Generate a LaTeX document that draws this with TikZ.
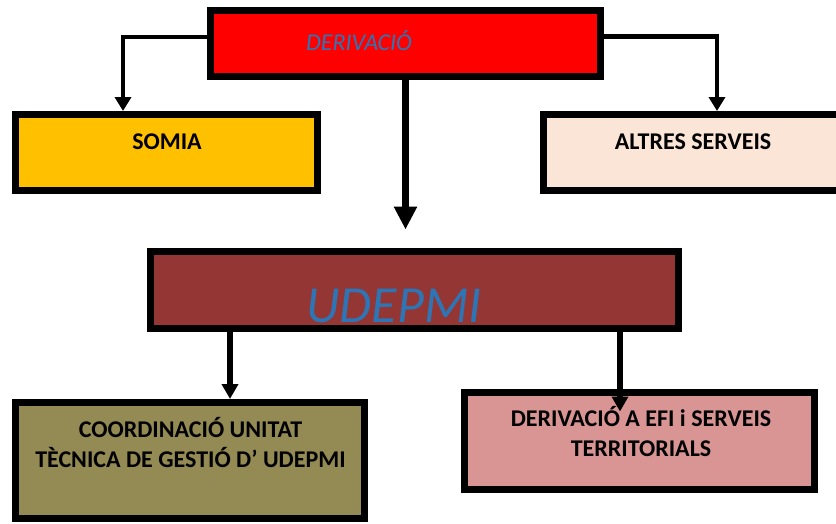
\documentclass[tikz,border=0pt]{standalone}
\usepackage{fontspec}
\setmainfont{Carlito}
\usetikzlibrary{arrows.meta}
\definecolor{cRed}{HTML}{FF0000}
\definecolor{cSomia}{HTML}{FFC000}
\definecolor{cAltres}{HTML}{FBE5D6}
\definecolor{cUdepmi}{HTML}{943634}
\definecolor{cCoord}{HTML}{948A54}
\definecolor{cEfi}{HTML}{D99594}
\definecolor{cBlue}{HTML}{2E75B6}
\tikzset{
  box/.style={draw=black, line width=7pt, rectangle, inner sep=0pt},
  lbl/.style={font=\fontsize{24}{30}\selectfont\bfseries, text=black, inner sep=0pt, anchor=base, align=center},
  conn/.style={line width=4.5pt, -{Triangle[width=16pt,length=14pt]}},
  connmid/.style={line width=5.5pt, -{Triangle[width=16pt,length=15pt]}},
  connbig/.style={line width=7pt, -{Triangle[width=22pt,length=23pt]}}
}
\begin{document}
\begin{tikzpicture}[x=1pt,y=-1pt]
\useasboundingbox (0,0) rectangle (836,523);
\begin{scope}
\clip (0,0) rectangle (836,523);
% boxes
\node[box, fill=cRed, minimum width=390pt, minimum height=66pt] (dv) at (405.5,43.5) {};
\node[box, fill=cSomia, minimum width=302pt, minimum height=76pt] (so) at (166.5,152.5) {};
\node[box, fill=cAltres, minimum width=302pt, minimum height=76pt] (al) at (694.5,152.5) {};
\node[box, fill=cUdepmi, minimum width=528pt, minimum height=77pt] (ud) at (414.5,290) {};
\node[box, fill=cCoord, minimum width=349pt, minimum height=116pt] (co) at (190,460.5) {};
\node[box, fill=cEfi, minimum width=350pt, minimum height=97pt] (ef) at (639.5,441) {};
% texts
\node[inner sep=0pt, anchor=base, font=\fontsize{24}{28}\selectfont\itshape, text=cBlue] (tdv) at (359,50) {DERIVACIÓ};
\node[lbl] (tso) at (167,149) {SOMIA};
\node[lbl] (tal) at (693,149) {ALTRES SERVEIS};
\node[inner sep=0pt, anchor=base, font=\fontsize{52}{60}\selectfont\itshape, text=cBlue] (tud) at (394,322) {UDEPMI};
\node[lbl] (tco) at (190.5,467) {COORDINACIÓ UNITAT\\TÈCNICA DE GESTIÓ D’ UDEPMI};
\node[lbl] (tef) at (641,456) {DERIVACIÓ A EFI i SERVEIS\\TERRITORIALS};
% connectors
\draw[conn] ([yshift=6.5pt]dv.west) -| ([xshift=-43.5pt]so.north);
\draw[conn] ([yshift=7pt]dv.east) -| ([xshift=22.5pt]al.north);
\draw[connbig] (dv.south) -- ([yshift=18.5pt]dv.south |- ud.north);
\draw[connmid] ([xshift=-184.5pt]ud.south) -- ([xshift=-184.5pt]ud.south |- co.north);
\draw[connmid] ([xshift=205.5pt]ud.south) -- ([xshift=205.5pt,yshift=-22.5pt]ud.south |- ef.north);
\end{scope}
\end{tikzpicture}
\end{document}
